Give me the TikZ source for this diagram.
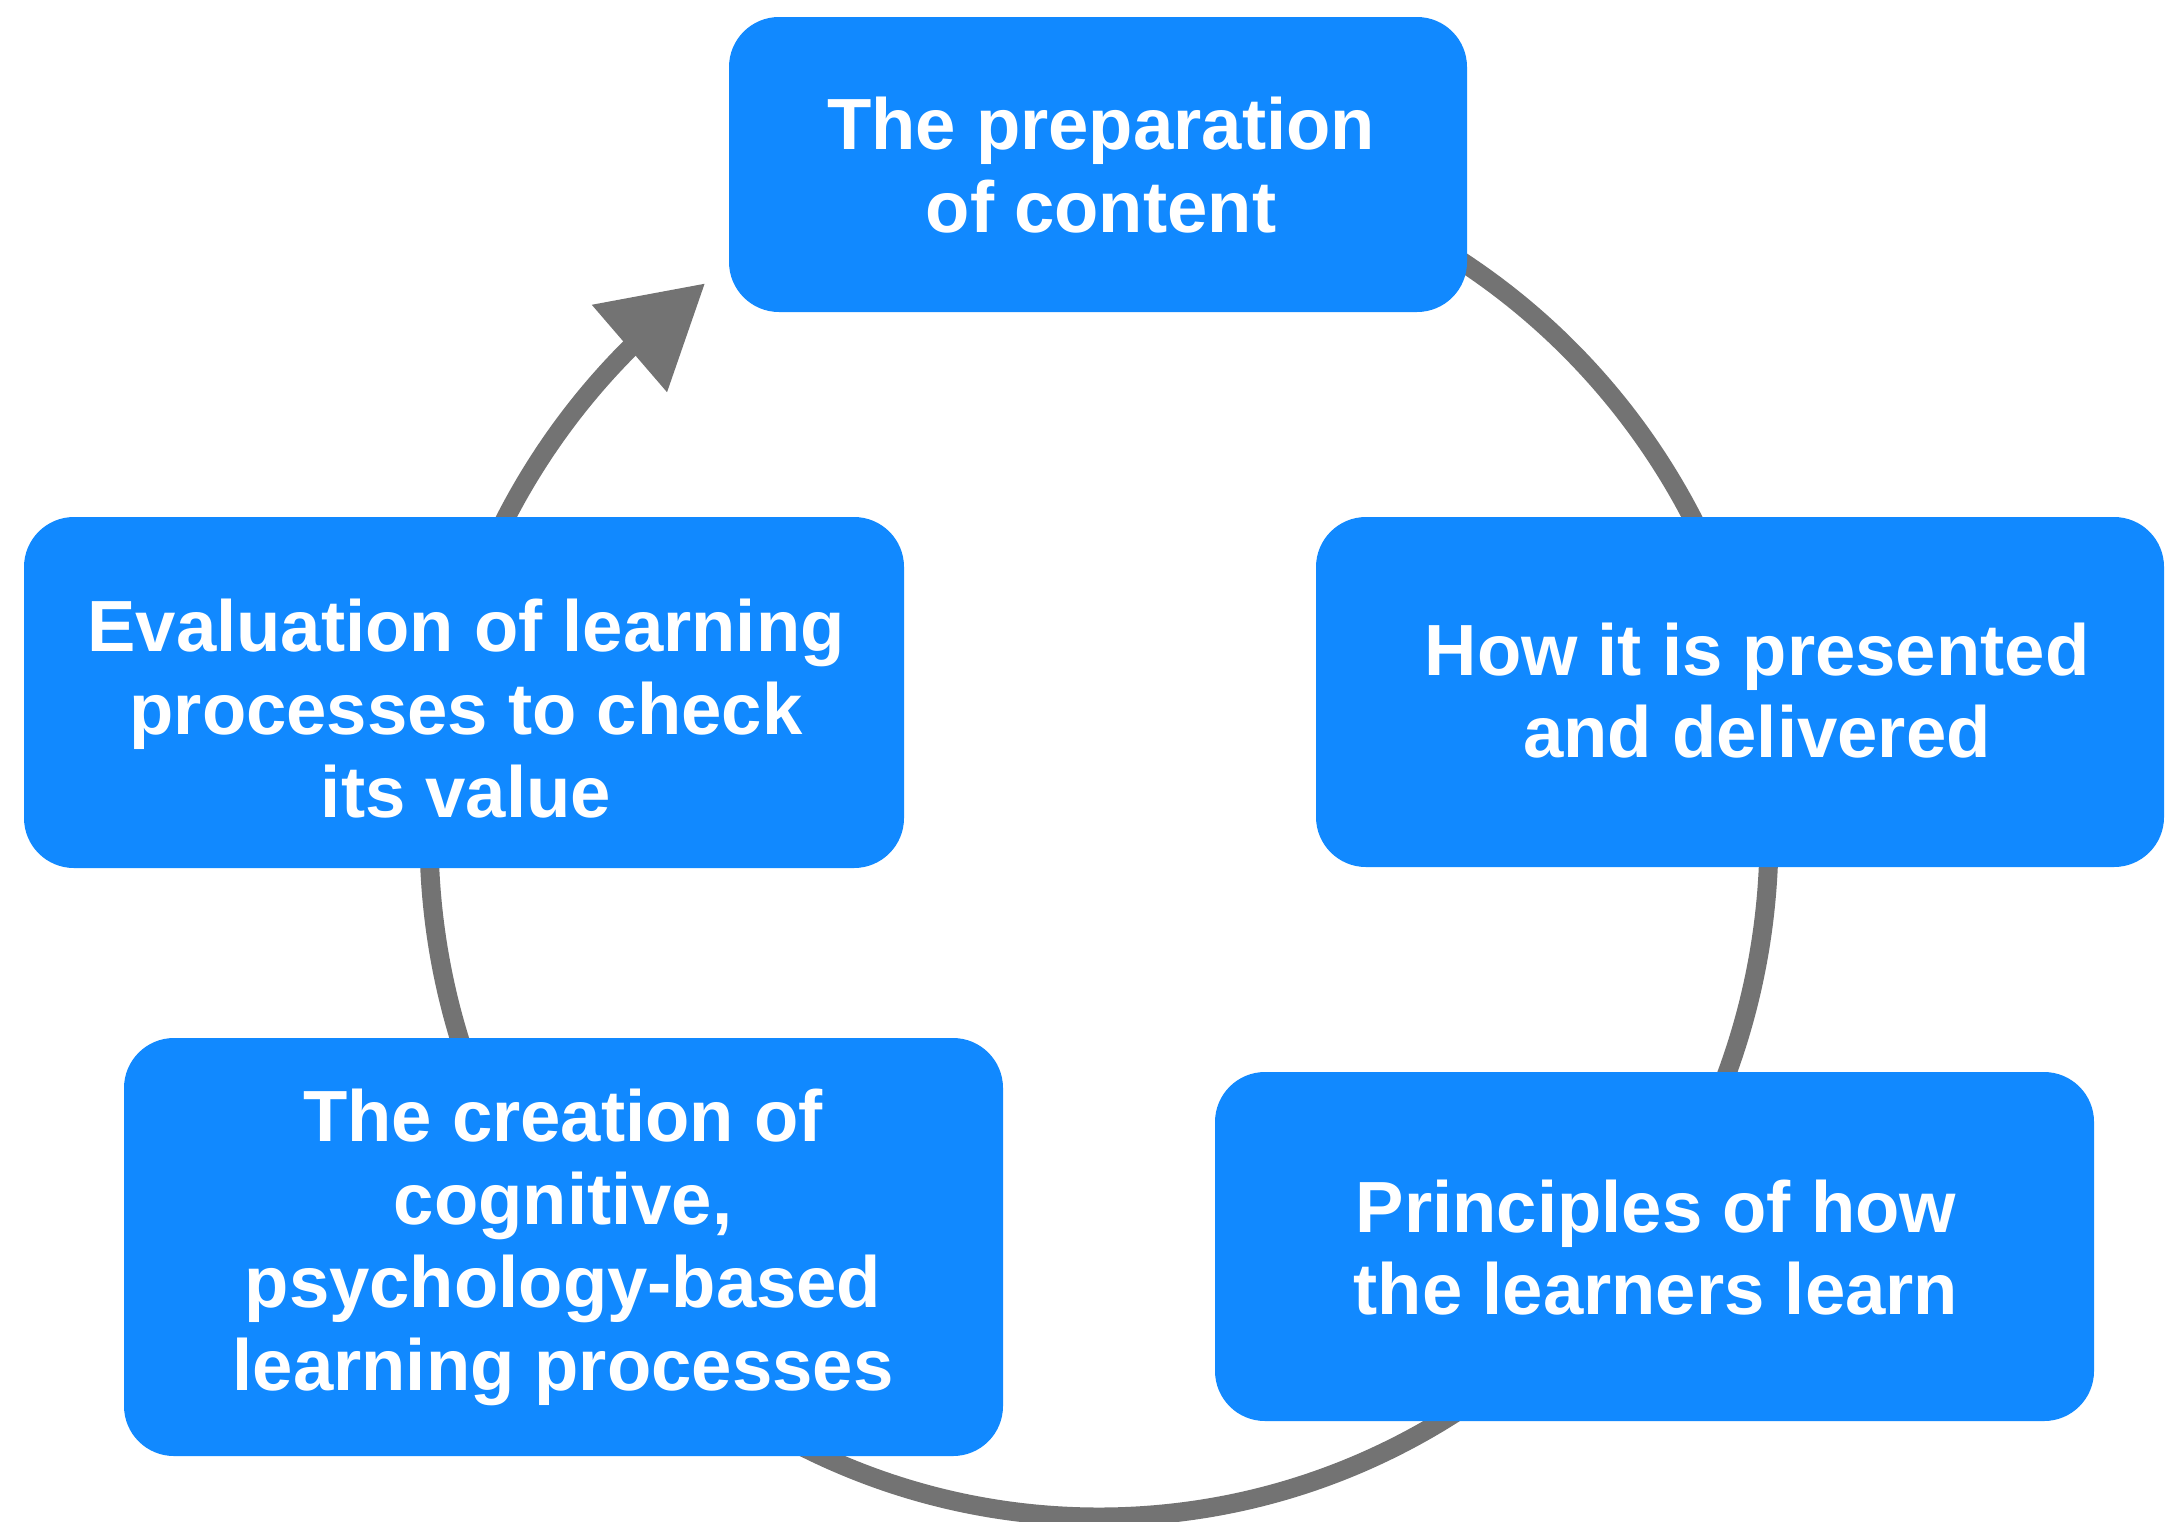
\documentclass[tikz,border=0pt]{standalone}
\usepackage{fontspec}
\setmainfont{Liberation Sans}
\usetikzlibrary{arrows.meta,bending,backgrounds}
\definecolor{boxblue}{RGB}{17,137,255}
\definecolor{cyclegray}{RGB}{115,115,115}
\newcommand{\lstrut}{\rule[-10pt]{0pt}{40pt}}
\begin{document}
\begin{tikzpicture}[x=0.5pt,y=-0.5pt,
  stepbox/.style={rectangle, rounded corners=25pt, fill=boxblue, draw=none, inner sep=0pt},
  steptext/.style={inner sep=0pt, align=center, text=white,
    font={\fontsize{36.25pt}{41.35pt}\selectfont\bfseries}},
  cycleline/.style={line width=9.5pt, draw=cyclegray,
    -{Triangle[length=50pt,width=55pt,flex]}}]
\useasboundingbox (0,0) rectangle (2166,1521);

% boxes
\node[stepbox, minimum width=369pt, minimum height=147.5pt] (prep) at (1098,164.5) {};
\node[stepbox, minimum width=424pt, minimum height=175pt] (pres) at (1740,692) {};
\node[stepbox, minimum width=440pt, minimum height=175.5pt] (eval) at (464,692.5) {};
\node[stepbox, minimum width=439.5pt, minimum height=209pt] (create) at (563.5,1247) {};
\node[stepbox, minimum width=439.5pt, minimum height=174.5pt] (princ) at (1654.5,1246.5) {};

% texts
\node[steptext] (preptext) at (1101,171) {\lstrut The preparation\\\lstrut of content};
\node[steptext] (prestext) at (1757,696.5) {\lstrut How it is presented\\\lstrut and delivered};
\node[steptext] (evaltext) at (466,714.5) {\lstrut Evaluation of learning\\\lstrut processes to check\\\lstrut its value};
\node[steptext] (createtext) at (563,1246) {\lstrut The creation of\\\lstrut cognitive,\\\lstrut psychology-based\\\lstrut learning processes};
\node[steptext] (princtext) at (1656,1253.5) {\lstrut Principles of how\\\lstrut the learners learn};

% cycle
\coordinate (c) at (1099,835);
\begin{scope}[on background layer]
\draw[cycleline] ([shift={(-90:670 and 682)}]c)
  arc[start angle=-90, end angle=234, x radius=670, y radius=682];
\end{scope}
\end{tikzpicture}
\end{document}
